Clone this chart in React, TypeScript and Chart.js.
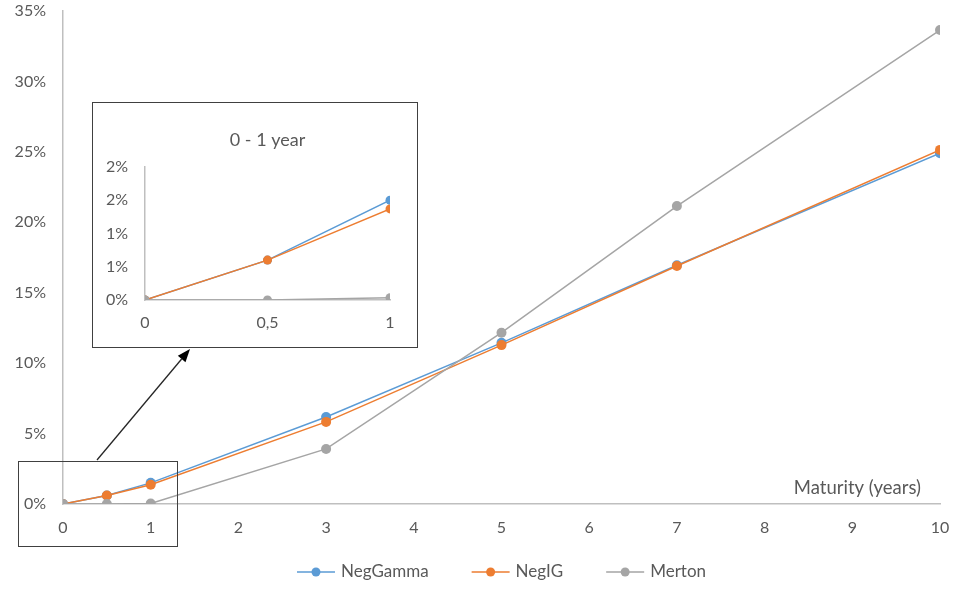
import { useEffect, useRef } from "react";
import { Chart, registerables } from "chart.js";
import type { Plugin, Scale } from "chart.js";

Chart.register(...registerables);

// maturities in years, default rates in %
const maturities = [0, 0.5, 1, 3, 5, 7, 10];
const negGamma = [0, 0.6, 1.5, 6.18, 11.44, 16.95, 24.9];
const negIG = [0, 0.6, 1.37, 5.83, 11.28, 16.9, 25.14];
const merton = [0, 0, 0.035, 3.91, 12.16, 21.15, 33.65];

const seriesNames = ["NegGamma", "NegIG", "Merton"];
const seriesValues = [negGamma, negIG, merton];
const seriesColors = ["#5B9BD5", "#ED7D31", "#A5A5A5"];

const insetXTicks = ["0", "0,5", "1"];
const insetYTicks = ["0%", "1%", "1%", "2%", "2%"];
const insetMaxMaturity = 1;

const axisTitle = "Maturity (years)";
const insetTitle = "0 - 1 year";

const FONT = "Lato, 'Open Sans', sans-serif";
const TEXT = "#595959";
const AXIS = "#BFBFBF";

function buildDatasets(maxX: number, radius: number) {
    return seriesNames.map((name, i) => ({
        label: name,
        data: maturities
            .map((x, j) => ({ x, y: seriesValues[i][j] }))
            .filter((p) => p.x <= maxX),
        borderColor: seriesColors[i],
        backgroundColor: seriesColors[i],
        borderWidth: 1.5,
        pointRadius: radius,
        pointBorderWidth: 0,
        tension: 0,
        order: seriesNames.length - i,
    }));
}

// fixed axis sizes, no label overhang padding
function fixSize(size: number) {
    return (s: Scale) => {
        if (s.isHorizontal()) {
            s.height = size;
        } else {
            s.width = size;
        }
        s.paddingTop = 0;
        s.paddingBottom = 0;
        s.paddingLeft = 0;
        s.paddingRight = 0;
    };
}

const mainOverlay: Plugin<"line"> = {
    id: "mainOverlay",
    afterDraw(chart) {
        const { ctx, chartArea } = chart;
        ctx.save();
        ctx.fillStyle = TEXT;
        ctx.font = `18.5px ${FONT}`;
        ctx.textAlign = "right";
        ctx.textBaseline = "middle";
        ctx.fillText(axisTitle, chartArea.right - 19, chartArea.bottom - 16);

        // legend: line + marker, label
        ctx.font = `17px ${FONT}`;
        const lineLen = 38;
        const gap = 6;
        const itemGap = 43;
        const widths = seriesNames.map(
            (n) => lineLen + gap + ctx.measureText(n).width
        );
        const total =
            widths.reduce((a, b) => a + b, 0) + itemGap * (widths.length - 1);
        let x = (chartArea.left + chartArea.right) / 2 - total / 2;
        const y = chart.height - 19;
        ctx.textAlign = "left";
        seriesNames.forEach((n, i) => {
            ctx.strokeStyle = seriesColors[i];
            ctx.lineWidth = 1.5;
            ctx.beginPath();
            ctx.moveTo(x, y);
            ctx.lineTo(x + lineLen, y);
            ctx.stroke();
            ctx.fillStyle = seriesColors[i];
            ctx.beginPath();
            ctx.arc(x + lineLen / 2, y, 4.5, 0, Math.PI * 2);
            ctx.fill();
            ctx.fillStyle = TEXT;
            ctx.fillText(n, x + lineLen + gap, y);
            x += widths[i] + itemGap;
        });
        ctx.restore();
    },
};

const insetOverlay: Plugin<"line"> = {
    id: "insetOverlay",
    afterDraw(chart) {
        const { ctx, chartArea } = chart;
        ctx.save();
        ctx.fillStyle = TEXT;
        ctx.font = `18px ${FONT}`;
        ctx.textAlign = "center";
        ctx.textBaseline = "middle";
        ctx.fillText(insetTitle, (chartArea.left + chartArea.right) / 2, 37);
        ctx.restore();
    },
};

function MainChart() {
    const canvasRef = useRef<HTMLCanvasElement | null>(null);

    useEffect(() => {
        const canvas = canvasRef.current;
        if (!canvas) {
            return;
        }
        const chart = new Chart(canvas, {
            type: "line",
            data: { datasets: buildDatasets(Infinity, 5) },
            options: {
                animation: false,
                responsive: false,
                layout: {
                    autoPadding: false,
                    padding: { top: 11, right: 17, left: 0, bottom: 0 },
                },
                plugins: {
                    legend: { display: false },
                    tooltip: { enabled: false },
                },
                scales: {
                    x: {
                        type: "linear",
                        min: 0,
                        max: 10,
                        grid: { display: false, drawTicks: false },
                        border: { display: true, color: AXIS, width: 1.5 },
                        ticks: {
                            stepSize: 1,
                            color: TEXT,
                            font: { family: FONT, size: 16 },
                            padding: 14,
                        },
                        afterFit: fixSize(87),
                    },
                    y: {
                        min: 0,
                        max: 35,
                        grid: { display: false, drawTicks: false },
                        border: { display: true, color: AXIS, width: 1.5 },
                        ticks: {
                            stepSize: 5,
                            color: TEXT,
                            font: { family: FONT, size: 16 },
                            padding: 17,
                            callback: (v) => `${v}%`,
                        },
                        afterFit: fixSize(63),
                    },
                },
            },
            plugins: [mainOverlay],
        });
        return () => chart.destroy();
    }, []);

    return <canvas ref={canvasRef} width={957} height={591} />;
}

function InsetChart() {
    const canvasRef = useRef<HTMLCanvasElement | null>(null);

    useEffect(() => {
        const canvas = canvasRef.current;
        if (!canvas) {
            return;
        }
        const chart = new Chart(canvas, {
            type: "line",
            data: { datasets: buildDatasets(insetMaxMaturity, 4.5) },
            options: {
                animation: false,
                responsive: false,
                layout: {
                    autoPadding: false,
                    padding: { top: 64, right: 27, left: 0, bottom: 0 },
                },
                plugins: {
                    legend: { display: false },
                    tooltip: { enabled: false },
                },
                scales: {
                    x: {
                        type: "linear",
                        min: 0,
                        max: insetMaxMaturity,
                        grid: { display: false, drawTicks: false },
                        border: { display: true, color: AXIS, width: 1.5 },
                        ticks: {
                            stepSize: 0.5,
                            color: TEXT,
                            font: { family: FONT, size: 16 },
                            padding: 13,
                            callback: (_v, i) => insetXTicks[i],
                        },
                        afterFit: fixSize(47),
                    },
                    y: {
                        min: 0,
                        max: 2,
                        grid: { display: false, drawTicks: false },
                        border: { display: true, color: AXIS, width: 1.5 },
                        ticks: {
                            stepSize: 0.5,
                            color: TEXT,
                            font: { family: FONT, size: 16 },
                            padding: 17,
                            callback: (_v, i) => insetYTicks[i],
                        },
                        afterFit: fixSize(52),
                    },
                },
            },
            plugins: [insetOverlay],
        });
        return () => chart.destroy();
    }, []);

    return <canvas ref={canvasRef} width={324} height={244} />;
}

// arrow from zoom box up to the inset
const arrowFrom = { x: 97, y: 460 };
const arrowTo = { x: 190, y: 349 };

function Arrow() {
    const dx = arrowTo.x - arrowFrom.x;
    const dy = arrowTo.y - arrowFrom.y;
    const len = Math.hypot(dx, dy);
    const ux = dx / len;
    const uy = dy / len;
    const headLen = 13;
    const headW = 5;
    const bx = arrowTo.x - ux * headLen;
    const by = arrowTo.y - uy * headLen;
    const head = [
        `${arrowTo.x},${arrowTo.y}`,
        `${bx - uy * headW},${by + ux * headW}`,
        `${bx + uy * headW},${by - ux * headW}`,
    ].join(" ");
    return (
        <svg
            width={957}
            height={591}
            style={{ position: "absolute", left: 0, top: 0, pointerEvents: "none" }}
        >
            <line
                x1={arrowFrom.x}
                y1={arrowFrom.y}
                x2={bx}
                y2={by}
                stroke="#262626"
                strokeWidth={1.3}
            />
            <polygon points={head} fill="#000" />
        </svg>
    );
}

export default function App() {
    return (
        <div
            style={{
                position: "fixed",
                left: 0,
                top: 0,
                width: 957,
                height: 591,
                background: "#fff",
                overflow: "hidden",
            }}
        >
            <div style={{ position: "absolute", left: 0, top: 0 }}>
                <MainChart />
            </div>
            <div
                style={{
                    position: "absolute",
                    left: 18,
                    top: 461,
                    width: 160,
                    height: 86,
                    boxSizing: "border-box",
                    border: "1px solid #404040",
                }}
            />
            <div
                style={{
                    position: "absolute",
                    left: 92,
                    top: 102,
                    width: 326,
                    height: 246,
                    boxSizing: "border-box",
                    border: "1px solid #404040",
                    background: "#fff",
                }}
            >
                <InsetChart />
            </div>
            <Arrow />
        </div>
    );
}
